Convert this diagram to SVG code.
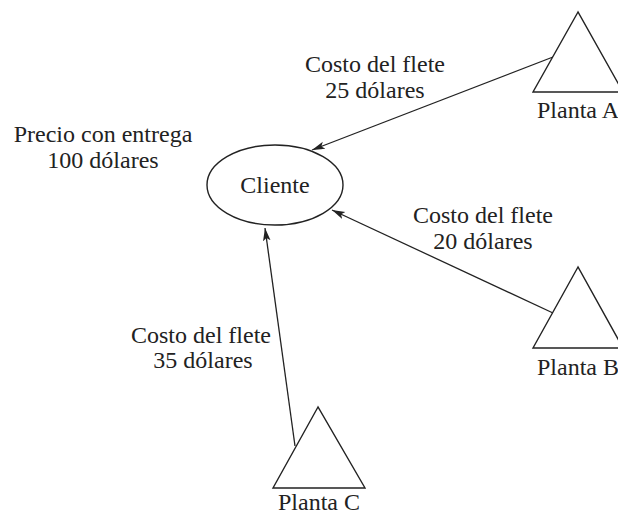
<svg xmlns="http://www.w3.org/2000/svg" width="618" height="516" viewBox="0 0 618 516">
<style>
text{font-family:"Liberation Serif","Times New Roman",serif;font-size:24px;fill:#222;text-anchor:middle}
.shape{fill:#fff;stroke:#222;stroke-width:1.4}
.conn{fill:none;stroke:#222;stroke-width:1.3}
</style>
<defs>
<marker id="arr" markerUnits="userSpaceOnUse" markerWidth="14" markerHeight="10" viewBox="0 -5 14 10" refX="13" refY="0" orient="auto">
<path d="M0,-3.8 L13,0 L0,3.8 L3,0 z" fill="#222"/>
</marker>
</defs>
<rect width="618" height="516" fill="#fff"/>
<g id="connectors">
<line class="conn" x1="553" y1="57" x2="312" y2="150" marker-end="url(#arr)"/>
<line class="conn" x1="553" y1="313" x2="332" y2="210" marker-end="url(#arr)"/>
<line class="conn" x1="295" y1="446" x2="265" y2="228" marker-end="url(#arr)"/>
</g>
<g id="cliente">
<ellipse class="shape" cx="275" cy="185" rx="68" ry="40"/>
<text x="275" y="193">Cliente</text>
</g>
<g id="precio">
<text x="103" y="142">Precio con entrega</text>
<text x="103" y="168">100 dólares</text>
</g>
<g id="plantaA">
<polygon class="shape" points="578,12 533,92 623,92"/>
<text x="578" y="118">Planta A</text>
</g>
<g id="plantaB">
<polygon class="shape" points="578,267 533,348 623,348"/>
<text x="578" y="375">Planta B</text>
</g>
<g id="plantaC">
<polygon class="shape" points="318,407 273,488 365,488"/>
<text x="319" y="510">Planta C</text>
</g>
<g id="labelA">
<text x="375" y="72">Costo del flete</text>
<text x="375" y="98">25 dólares</text>
</g>
<g id="labelB">
<text x="483" y="223">Costo del flete</text>
<text x="483" y="249">20 dólares</text>
</g>
<g id="labelC">
<text x="201" y="343">Costo del flete</text>
<text x="203" y="368">35 dólares</text>
</g>
</svg>
